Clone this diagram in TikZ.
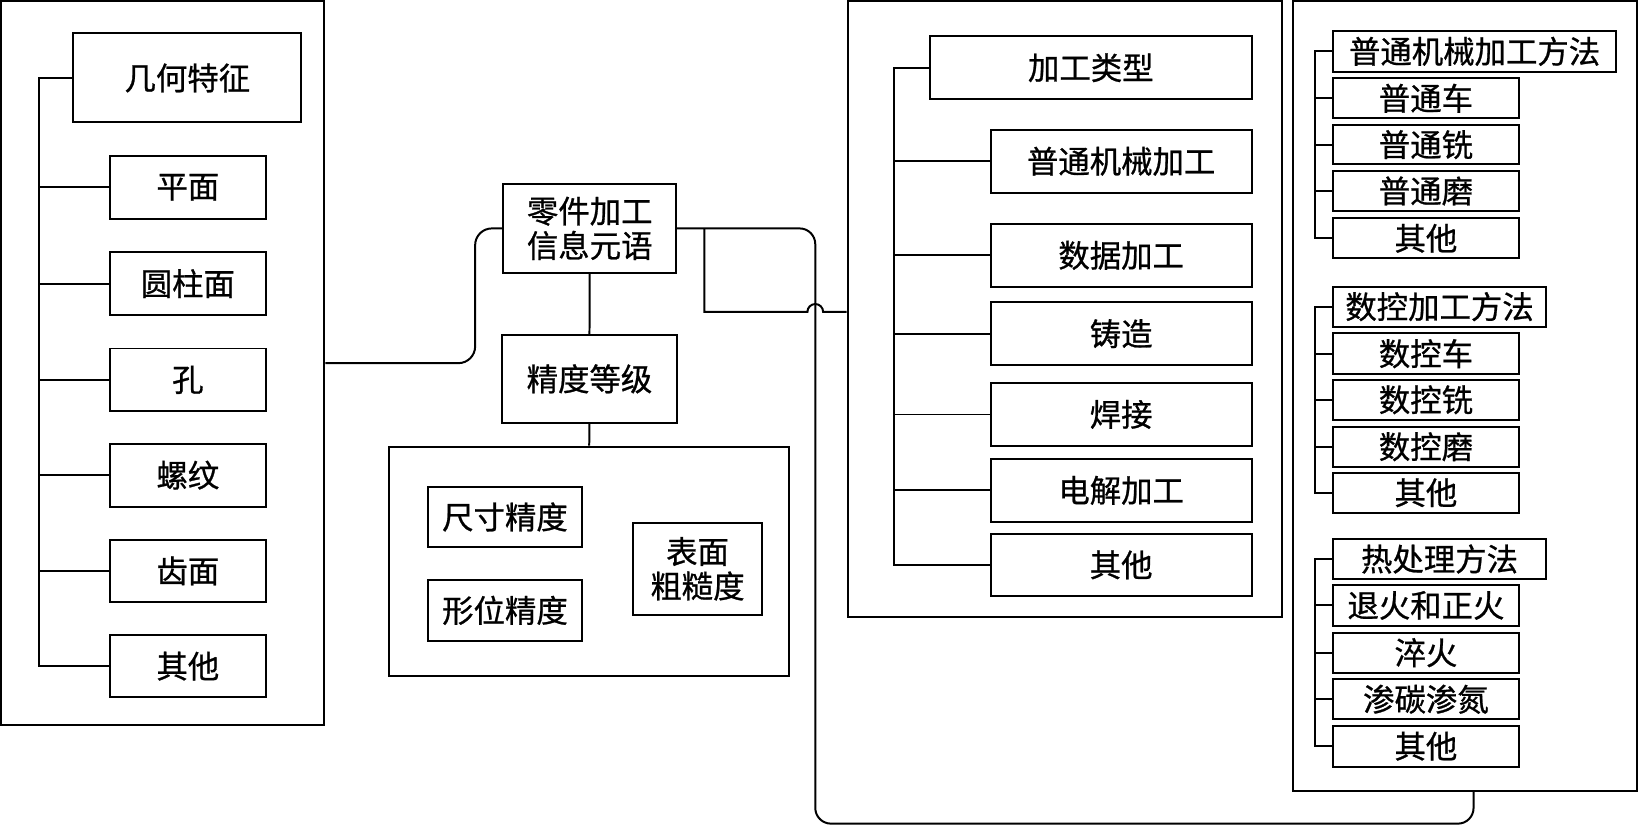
\documentclass[tikz,border=0pt]{standalone}
\usepackage{fontspec}
\newfontfamily\cjk[FakeBold=0.8]{Noto Sans CJK SC}
\tikzset{
  bx/.style={draw, line width=0.95pt, inner sep=0pt, font=\cjk\fontsize{15pt}{16.5pt}\selectfont, align=center},
  ln/.style={line width=0.95pt},
  thinln/.style={line width=0.5pt},
}
\newcommand\mybox[6]{\node[bx, minimum width={(#4-#2)*0.5pt}, minimum height={(#5-#3)*0.5pt}] (#1) at ({(#2+#4)/2},{(#3+#5)/2}) {#6};}
\begin{document}
\begin{tikzpicture}[x=0.5pt,y=-0.5pt]
\fill[white] (0,0) rectangle (1568,791);
\useasboundingbox (0,0) rectangle (1568,791);
% left group
\mybox{L}{1}{1}{310}{693}{}
\mybox{g0}{70}{32}{288}{117}{几何特征}
\mybox{g1}{105}{149}{254}{209}{平面}
\mybox{g2}{105}{241}{254}{301}{圆柱面}
\mybox{g3}{105}{333}{254}{393}{孔}
\mybox{g4}{105}{424}{254}{484}{螺纹}
\mybox{g5}{105}{516}{254}{575}{齿面}
\mybox{g6}{105}{607}{254}{666}{其他}
\coordinate (tL) at (37.6,0);
\draw[ln] (g0.west) -| (tL |- g6.west) -- (g6.west);
\foreach \i in {1,...,5}{\draw[ln] (g\i.west) -- (g\i.west -| tL);}
% middle group
\mybox{M}{810}{1}{1224.5}{590}{}
\mybox{m0}{888.6}{34.4}{1196}{95}{加工类型}
\mybox{m1}{946.6}{124.2}{1196}{184}{普通机械加工}
\mybox{m2}{946.6}{214}{1196}{274}{数据加工}
\mybox{m3}{946.6}{288.6}{1196}{349}{铸造}
\mybox{m4}{946.6}{366}{1196}{426}{焊接}
\mybox{m5}{946.6}{438.6}{1196}{498.5}{电解加工}
\mybox{m6}{946.6}{510}{1196}{569.5}{其他}
\coordinate (tM) at (854.5,0);
\draw[ln] (m0.west) -| (tM |- m6.west) -- (m6.west);
\foreach \i in {1,2,3,5}{\draw[ln] (m\i.west) -- (m\i.west -| tM);}
\draw[thinln] (m4.west) -- (m4.west -| tM);
% right group
\mybox{R}{1235.5}{1}{1564}{755.5}{}
\mybox{r0}{1274}{29.6}{1544}{68.5}{普通机械加工方法}
\mybox{r1}{1274}{74.8}{1451}{113}{普通车}
\mybox{r2}{1274}{119.4}{1451}{157}{普通铣}
\mybox{r3}{1274}{163}{1451}{202}{普通磨}
\mybox{r4}{1274}{208.6}{1451}{246.8}{其他}
\mybox{s0}{1274}{274}{1477}{312}{数控加工方法}
\mybox{s1}{1274}{318.5}{1451}{357.4}{数控车}
\mybox{s2}{1274}{363}{1451}{401}{数控铣}
\mybox{s3}{1274}{407.7}{1451}{446}{数控磨}
\mybox{s4}{1274}{451.6}{1451}{490}{其他}
\mybox{h0}{1274}{515.3}{1477}{553}{热处理方法}
\mybox{h1}{1274}{559}{1451}{598}{退火和正火}
\mybox{h2}{1274}{604.5}{1451}{642.7}{淬火}
\mybox{h3}{1274}{649}{1451}{687.3}{渗碳渗氮}
\mybox{h4}{1274}{693.4}{1451}{732.6}{其他}
\coordinate (tR) at (1256.5,0);
\foreach \g in {r,s,h}{
  \draw[ln] (\g0.west) -| (tR |- \g4.west) -- (\g4.west);
  \foreach \i in {1,2,3}{\draw[ln] (\g\i.west) -- (\g\i.west -| tR);}
}
% centre group
\mybox{P}{481}{176}{646}{260.5}{零件加工\\信息元语}
\mybox{Q}{480}{320}{646.5}{404}{精度等级}
\mybox{B}{372}{426.8}{754}{646}{}
\mybox{b1}{409}{465}{556}{523}{尺寸精度}
\mybox{b2}{409}{554}{556}{612.5}{形位精度}
\mybox{b3}{605}{499.4}{728}{587.6}{表面\\粗糙度}
\draw[ln] (P.south) -- (Q.north);
\draw[ln] (Q.south) -- (B.north);
% connectors
\coordinate (cl) at (454,0);
\draw[ln, rounded corners=8pt] (L.east) -| (cl |- P.west) -- (P.west);
\coordinate (cv) at (779,0);
\coordinate (cb) at (0,787);
\coordinate (cr) at (1408,0);
\draw[ln, rounded corners=7.5pt] (P.east) -| (cv |- cb) -| (cr |- R.south);
\coordinate (cj) at (673,0);
\coordinate (hy) at (0,298);
\draw[ln] (cj |- P.east) |- ([xshift=-3.75pt]cv |- hy) arc[start angle=180, end angle=360, radius=7.5] -- (M.west |- hy);
\end{tikzpicture}
\end{document}
